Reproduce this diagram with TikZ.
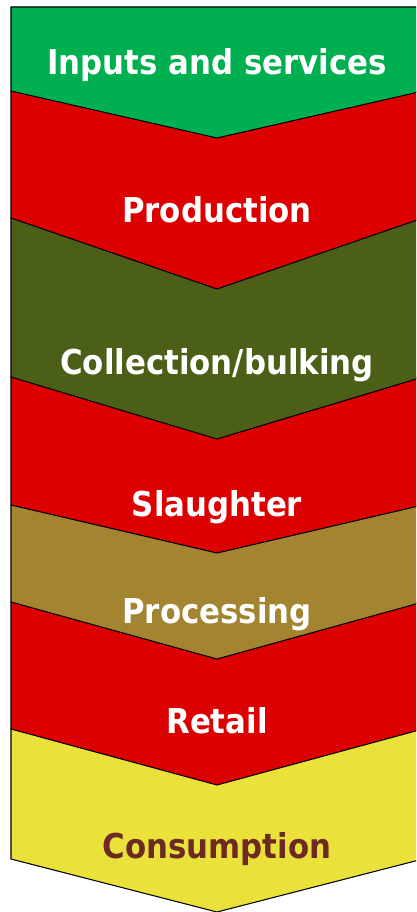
\documentclass[tikz,border=0pt]{standalone}
\usepackage{fontspec}
\setmainfont{DejaVu Sans Condensed}
\usepackage{tikz}
\usetikzlibrary{
    calc     % For coordinate calculations
}
\definecolor{inputsgreen}{HTML}{00B050}
\definecolor{stagered}{HTML}{DD0000}
\definecolor{collectolive}{HTML}{4B5F16}
\definecolor{processgold}{HTML}{A38430}
\definecolor{consumeyellow}{HTML}{EAE23A}
\definecolor{consumebrown}{HTML}{6B2A22}

\begin{document}
\begin{tikzpicture}[x=0.02cm, y=-0.02cm]

    % --- Style Definitions ---
    \tikzset{
        % Outline of every chevron in the chain
        stage/.style={
            draw=black,
            line width=0.6pt,
            line join=miter
        },
        % Text written on a chevron
        stagetext/.style={
            anchor=base,
            inner sep=0pt,
            text=white,
            font=\bfseries\fontsize{19.5}{23}\selectfont
        }
    }

    % Page size, the shapes run past the right edge
    \useasboundingbox (0,0) rectangle (416,912);
    \clip (0,0) rectangle (416,912);

    % --- Chevrons ---
    % Drawn from the bottom up, so each point lies over the next stage.
    \foreach \top/\side/\tip/\col in {
        729/859/912/consumeyellow,
        602/729/785/stagered,
        505/602/659/processgold,
        377/505/553/stagered,
        218/377/439/collectolive,
        91/218/289/stagered,
        7/91/138/inputsgreen}
    {
        \draw[stage, fill=\col] (11,\top) -- (423,\top) -- (423,\side)
            -- (217,\tip) -- (11,\side) -- cycle;
    }

    % --- Stage Names ---
    \node[stagetext] (inputs) at (217,75) {Inputs and services};
    \node[stagetext] (production) at (217,222) {Production};
    \node[stagetext] (collection) at (217,374) {Collection/bulking};
    \node[stagetext] (slaughter) at (217,516) {Slaughter};
    \node[stagetext] (processing) at (217,623) {Processing};
    \node[stagetext] (retail) at (217,733) {Retail};
    \node[stagetext, text=consumebrown] (consumption) at (217,858) {Consumption};

\end{tikzpicture}
\end{document}
